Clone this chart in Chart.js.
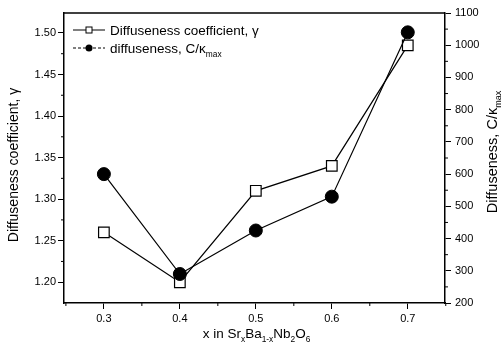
<!DOCTYPE html>
<html>
<head>
<meta charset="utf-8">
<script src="https://cdn.jsdelivr.net/npm/chart.js@4.4.0/dist/chart.umd.min.js"></script>
<style>
  html, body { margin: 0; padding: 0; background: #fff; }
  #wrap { width: 501px; height: 357px; }
</style>
</head>
<body>
<div id="wrap"><canvas id="wykres" width="501" height="357"></canvas></div>
<script>
// x in SrxBa1-xNb2O6
const xValues = [0.3, 0.4, 0.5, 0.6, 0.7];
// Diffuseness coefficient, gamma (left axis)
const gammaValues = [1.26, 1.20, 1.31, 1.34, 1.485];
// diffuseness, C/kappa_max (right axis)
const cKappaValues = [600, 290, 425, 530, 1040];

const xTicks = [0.3, 0.4, 0.5, 0.6, 0.7];
const xMinorTicks = [0.25, 0.35, 0.45, 0.55, 0.65, 0.75];
const gammaTicks = [1.20, 1.25, 1.30, 1.35, 1.40, 1.45, 1.50];
const gammaMinorTicks = [1.225, 1.275, 1.325, 1.375, 1.425, 1.475];
const cKappaTicks = [200, 300, 400, 500, 600, 700, 800, 900, 1000, 1100];
const cKappaMinorTicks = [250, 350, 450, 550, 650, 750, 850, 950, 1050];

const FONT = '"Liberation Sans", Arial, sans-serif';

// tekst z indeksami dolnymi: [[tekst, czyIndeks], ...]
function partsWidth(ctx, parts, size) {
  let w = 0;
  parts.forEach(p => {
    ctx.font = (p[1] ? size * 0.62 : size) + 'px ' + FONT;
    w += ctx.measureText(p[0]).width;
  });
  return w;
}
function drawParts(ctx, parts, x, y, size) {
  ctx.textAlign = 'left';
  ctx.textBaseline = 'alphabetic';
  parts.forEach(p => {
    ctx.font = (p[1] ? size * 0.62 : size) + 'px ' + FONT;
    ctx.fillText(p[0], x, p[1] ? y + size * 0.3 : y);
    x += ctx.measureText(p[0]).width;
  });
}

const decorPlugin = {
  id: 'decor',
  afterDraw(chart) {
    const ctx = chart.ctx;
    const a = chart.chartArea;
    const sx = chart.scales.x, sy = chart.scales.y, sy2 = chart.scales.y2;
    ctx.save();
    ctx.strokeStyle = '#000';
    ctx.fillStyle = '#000';

    // gorna ramka
    ctx.lineWidth = 1.5;
    ctx.beginPath();
    ctx.moveTo(a.left, a.top);
    ctx.lineTo(a.right, a.top);
    ctx.stroke();

    // male podzialki
    ctx.lineWidth = 1;
    ctx.beginPath();
    xMinorTicks.forEach(v => {
      const px = sx.getPixelForValue(v);
      ctx.moveTo(px, a.bottom); ctx.lineTo(px, a.bottom + 3);
    });
    gammaMinorTicks.forEach(v => {
      const py = sy.getPixelForValue(v);
      ctx.moveTo(a.left, py); ctx.lineTo(a.left - 3, py);
    });
    cKappaMinorTicks.forEach(v => {
      const py = sy2.getPixelForValue(v);
      ctx.moveTo(a.right, py); ctx.lineTo(a.right + 3, py);
    });
    ctx.stroke();

    // tytul osi x
    const xParts = [['x in Sr', 0], ['x', 1], ['Ba', 0], ['1-x', 1], ['Nb', 0], ['2', 1], ['O', 0], ['6', 1]];
    const xw = partsWidth(ctx, xParts, 13.5);
    drawParts(ctx, xParts, (a.left + a.right) / 2 - xw / 2 + 2, 338, 13.5);

    // tytul lewej osi
    const lParts = [['Diffuseness coefficient, \u03b3', 0]];
    ctx.save();
    ctx.translate(18, 165);
    ctx.rotate(-Math.PI / 2);
    const lw = partsWidth(ctx, lParts, 14);
    drawParts(ctx, lParts, -lw / 2, 0, 14);
    ctx.restore();

    // tytul prawej osi
    const rParts = [['Diffuseness, C/\u03ba', 0], ['max', 1]];
    ctx.save();
    ctx.translate(497, 152);
    ctx.rotate(-Math.PI / 2);
    const rw = partsWidth(ctx, rParts, 14.5);
    drawParts(ctx, rParts, -rw / 2, 0, 14.5);
    ctx.restore();

    // legenda
    ctx.lineWidth = 1;
    ctx.beginPath();
    ctx.moveTo(73, 30); ctx.lineTo(105, 30);
    ctx.stroke();
    ctx.fillStyle = '#fff';
    ctx.fillRect(86, 27, 6, 6);
    ctx.strokeRect(86, 27, 6, 6);
    ctx.fillStyle = '#000';
    drawParts(ctx, [['Diffuseness coefficient, \u03b3', 0]], 110, 35, 13.5);

    ctx.setLineDash([3, 2]);
    ctx.beginPath();
    ctx.moveTo(73, 48); ctx.lineTo(105, 48);
    ctx.stroke();
    ctx.setLineDash([]);
    ctx.beginPath();
    ctx.arc(89, 48, 3.5, 0, Math.PI * 2);
    ctx.fill();
    drawParts(ctx, [['diffuseness, C/\u03ba', 0], ['max', 1]], 110, 53, 13.5);

    ctx.restore();
  }
};

const ctx = document.getElementById('wykres').getContext('2d');
new Chart(ctx, {
  type: 'line',
  data: {
    datasets: [
      {
        label: 'diffuseness, C/\u03bamax',
        data: xValues.map((x, i) => ({ x: x, y: cKappaValues[i] })),
        yAxisID: 'y2',
        order: 0,
        borderColor: '#000',
        borderWidth: 1.2,
        pointStyle: 'circle',
        pointRadius: 6.5,
        pointBackgroundColor: '#000',
        pointBorderColor: '#000',
        pointBorderWidth: 1,
        tension: 0,
      },
      {
        label: 'Diffuseness coefficient, \u03b3',
        data: xValues.map((x, i) => ({ x: x, y: gammaValues[i] })),
        yAxisID: 'y',
        order: 1,
        borderColor: '#000',
        borderWidth: 1.2,
        pointStyle: 'rect',
        pointRadius: 7.5,
        pointBackgroundColor: '#fff',
        pointBorderColor: '#000',
        pointBorderWidth: 1.2,
        tension: 0,
      },
    ],
  },
  options: {
    responsive: false,
    animation: false,
    layout: { padding: { top: 13, left: 0, right: 0, bottom: 0 } },
    plugins: { legend: { display: false }, tooltip: { enabled: false } },
    scales: {
      x: {
        type: 'linear',
        position: 'bottom',
        min: 0.2475,
        max: 0.749,
        afterBuildTicks: s => { s.ticks = xTicks.map(v => ({ value: v })); },
        afterFit: s => { s.height = 54; },
        grid: { drawOnChartArea: false, tickLength: 6, tickColor: '#000', tickWidth: 1 },
        border: { color: '#000', width: 1.5 },
        ticks: {
          color: '#000', padding: 3, maxRotation: 0,
          font: { family: FONT, size: 11 },
          callback: v => v.toFixed(1),
        },
      },
      y: {
        type: 'linear',
        position: 'left',
        min: 1.175,
        max: 1.524,
        afterBuildTicks: s => { s.ticks = gammaTicks.map(v => ({ value: v })); },
        afterFit: s => { s.width = 64; },
        grid: { drawOnChartArea: false, tickLength: 6, tickColor: '#000', tickWidth: 1 },
        border: { color: '#000', width: 1.5 },
        ticks: {
          color: '#000', padding: 2,
          font: { family: FONT, size: 11 },
          callback: v => v.toFixed(2),
        },
      },
      y2: {
        type: 'linear',
        position: 'right',
        min: 200,
        max: 1100,
        afterBuildTicks: s => { s.ticks = cKappaTicks.map(v => ({ value: v })); },
        afterFit: s => { s.width = 56; },
        grid: { drawOnChartArea: false, tickLength: 6, tickColor: '#000', tickWidth: 1 },
        border: { color: '#000', width: 1.5 },
        ticks: {
          color: '#000', padding: 4,
          font: { family: FONT, size: 11 },
          callback: v => String(v),
        },
      },
    },
  },
  plugins: [decorPlugin],
});
</script>
</body>
</html>
